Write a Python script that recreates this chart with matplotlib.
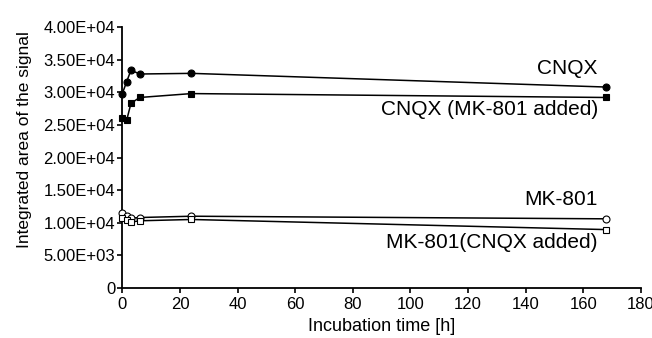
import matplotlib
matplotlib.use('Agg')
import matplotlib.pyplot as plt

plt.rcParams['font.family'] = ['Liberation Sans', 'DejaVu Sans']

# incubation times [h]
hours = [0, 1.5, 3, 6, 24, 168]

cnqx = [29800, 31600, 33400, 32800, 32900, 30800]
cnqx_mk = [26000, 25700, 28300, 29200, 29800, 29200]
mk801 = [11500, 11000, 10700, 10800, 11000, 10600]
mk801_cnqx = [10800, 10400, 10100, 10300, 10500, 8950]

series_labels = ['CNQX', 'CNQX (MK-801 added)', 'MK-801', 'MK-801(CNQX added)']
label_y = [33600, 27400, 13500, 6900]

y_ticks = [0, 5000, 10000, 15000, 20000, 25000, 30000, 35000, 40000]
y_tick_labels = ['0', '5.00E+03', '1.00E+04', '1.50E+04', '2.00E+04',
                 '2.50E+04', '3.00E+04', '3.50E+04', '4.00E+04']
x_ticks = [0, 20, 40, 60, 80, 100, 120, 140, 160, 180]

fig = plt.figure(figsize=(6.52, 3.38), dpi=100)
ax = fig.add_axes([0.1876, 0.148, 0.7955, 0.772])

styles = [('o', 'black'), ('s', 'black'), ('o', 'white'), ('s', 'white')]
for vals, (mk, fc) in zip([cnqx, cnqx_mk, mk801, mk801_cnqx], styles):
    ax.plot(hours, vals, color='black', linewidth=1.1, marker=mk,
            markersize=5, markerfacecolor=fc, markeredgecolor='black',
            markeredgewidth=0.8, clip_on=False, zorder=3)

for text, yv in zip(series_labels, label_y):
    ax.text(165, yv, text, ha='right', va='center', fontsize=15)

ax.set_xlim(0, 180)
ax.set_ylim(0, 40000)
ax.set_xticks(x_ticks)
ax.set_yticks(y_ticks)
ax.set_yticklabels(y_tick_labels)
ax.tick_params(labelsize=12, length=3.5, width=1.2, pad=1.5)
ax.tick_params(axis='x', pad=3)
for side in ['top', 'right']:
    ax.spines[side].set_visible(False)
for side in ['left', 'bottom']:
    ax.spines[side].set_linewidth(1.3)

ax.set_xlabel('Incubation time [h]', fontsize=13, labelpad=4)
ax.set_ylabel('Integrated area of the signal', fontsize=12.5)
ax.yaxis.set_label_coords(-0.175, 0.57)

fig.savefig('out.png', dpi=100)
